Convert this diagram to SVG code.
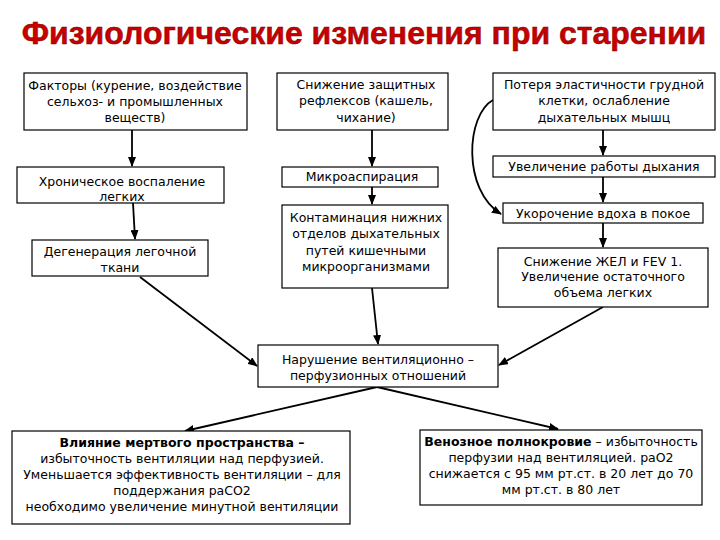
<svg xmlns="http://www.w3.org/2000/svg" width="720" height="540" viewBox="0 0 720 540">
<style>
.box{fill:#fff;stroke:#000;stroke-width:1.2}
.t{font-family:"DejaVu Sans","Liberation Sans",sans-serif;font-size:12.5px;fill:#000;text-anchor:middle}
.b{font-weight:bold}
.c{fill:none;stroke:#000;stroke-width:1.8}
.title{font-family:"Liberation Sans",Arial,sans-serif;font-size:32px;font-weight:bold;fill:#c80000;stroke:#7a0000;stroke-width:0.5;text-anchor:middle}
</style>
<defs>
<marker id="ar" markerUnits="userSpaceOnUse" markerWidth="10" markerHeight="8" refX="9" refY="4" orient="auto">
<path d="M0,0 L10,4 L0,8 z" fill="#000"/>
</marker>
</defs>
<rect width="720" height="540" fill="#fff"/>
<text class="title" x="364" y="44">Физиологические изменения при старении</text>

<g id="connectors">
<path class="c" d="M132,130 L132,166" marker-end="url(#ar)"/>
<path class="c" d="M133,203 L135,239" marker-end="url(#ar)"/>
<path class="c" d="M372,130 L372,166" marker-end="url(#ar)"/>
<path class="c" d="M372,187 L372,204" marker-end="url(#ar)"/>
<path class="c" d="M603,130 L603,155" marker-end="url(#ar)"/>
<path class="c" d="M603,177 L603,202" marker-end="url(#ar)"/>
<path class="c" d="M603,223 L603,247" marker-end="url(#ar)"/>
<path class="c" d="M140,277 L257,366" marker-end="url(#ar)"/>
<path class="c" d="M372,288 L378,344" marker-end="url(#ar)"/>
<path class="c" d="M603,307 L499,365" marker-end="url(#ar)"/>
<path class="c" d="M377,387 L185,431" marker-end="url(#ar)"/>
<path class="c" d="M377,387 L558,429" marker-end="url(#ar)"/>
<path class="c" d="M493,100 C466,115 462,190 501,214" marker-end="url(#ar)"/>
</g>

<g id="n1"><rect class="box" x="24" y="73" width="223" height="57"/>
<text class="t" x="135" y="90">Факторы (курение, воздействие</text>
<text class="t" x="135" y="106">сельхоз- и промышленных</text>
<text class="t" x="135" y="122">веществ)</text></g>

<g id="n2"><rect class="box" x="17" y="167" width="207" height="36"/>
<text class="t" x="122" y="186">Хроническое воспаление</text>
<text class="t" x="122" y="201">легких</text></g>

<g id="n3"><rect class="box" x="32" y="240" width="176" height="36"/>
<text class="t" x="120" y="256">Дегенерация легочной</text>
<text class="t" x="120" y="272">ткани</text></g>

<g id="n4"><rect class="box" x="277" y="73" width="171" height="57"/>
<text class="t" x="366" y="89">Снижение защитных</text>
<text class="t" x="366" y="105">рефлексов (кашель,</text>
<text class="t" x="366" y="122">чихание)</text></g>

<g id="n5"><rect class="box" x="282" y="167" width="156" height="20"/>
<text class="t" x="362" y="181">Микроаспирация</text></g>

<g id="n6"><rect class="box" x="282" y="205" width="166" height="83"/>
<text class="t" x="366" y="222">Контаминация нижних</text>
<text class="t" x="366" y="238">отделов дыхательных</text>
<text class="t" x="366" y="255">путей кишечными</text>
<text class="t" x="366" y="271">микроорганизмами</text></g>

<g id="n7"><rect class="box" x="493" y="73" width="222" height="57"/>
<text class="t" x="604" y="89">Потеря эластичности грудной</text>
<text class="t" x="604" y="105">клетки, ослабление</text>
<text class="t" x="604" y="122">дыхательных мышц</text></g>

<g id="n8"><rect class="box" x="493" y="156" width="222" height="21"/>
<text class="t" x="604" y="171">Увеличение работы дыхания</text></g>

<g id="n9"><rect class="box" x="503" y="203" width="200" height="20"/>
<text class="t" x="603" y="218">Укорочение вдоха в покое</text></g>

<g id="n10"><rect class="box" x="498" y="248" width="210" height="59"/>
<text class="t" x="603" y="266">Снижение ЖЕЛ и FEV 1.</text>
<text class="t" x="603" y="281">Увеличение остаточного</text>
<text class="t" x="603" y="297">объема легких</text></g>

<g id="n11"><rect class="box" x="258" y="345" width="240" height="42"/>
<text class="t" x="378" y="364">Нарушение вентиляционно –</text>
<text class="t" x="378" y="380">перфузионных отношений</text></g>

<g id="n12"><rect class="box" x="12" y="431" width="338" height="93"/>
<text class="t b" x="182" y="447">Влияние мертвого пространства –</text>
<text class="t" x="182" y="463">избыточность вентиляции над перфузией.</text>
<text class="t" x="182" y="479">Уменьшается  эффективность вентиляции – для</text>
<text class="t" x="182" y="495">поддержания paCO2</text>
<text class="t" x="182" y="511">необходимо увеличение минутной вентиляции</text></g>

<g id="n13"><rect class="box" x="420" y="430" width="282" height="75"/>
<text class="t" x="561" y="446"><tspan class="b">Венозное полнокровие</tspan> – избыточность</text>
<text class="t" x="561" y="462">перфузии над вентиляцией. paO2</text>
<text class="t" x="561" y="478">снижается с 95 мм рт.ст. в 20 лет до 70</text>
<text class="t" x="561" y="494">мм рт.ст. в 80 лет</text></g>
</svg>
